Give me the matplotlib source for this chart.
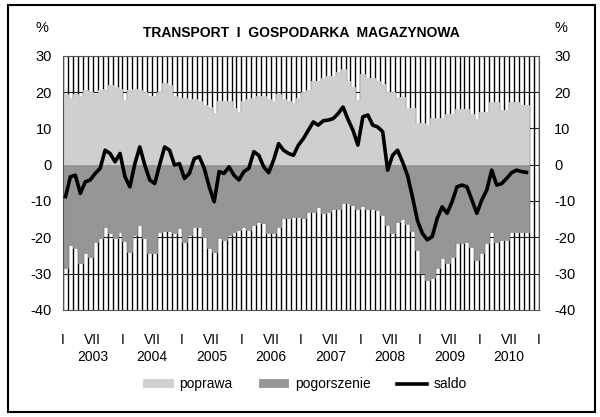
import matplotlib
matplotlib.use("Agg")
import matplotlib.pyplot as plt
from matplotlib.patches import Rectangle
import numpy as np

plt.rcParams['font.family'] = ['Liberation Sans', 'DejaVu Sans']
plt.rcParams['axes.unicode_minus'] = False

# monthly data, I 2003 - X 2010
poprawa = [19.5, 18.5, 19.5, 19.0, 20.5, 20.0, 19.5, 20.5, 21.0, 22.0, 21.5, 21.0,
           17.8, 20.5, 21.0, 20.5, 20.0, 19.0, 19.0, 20.0, 22.5, 22.0, 19.0, 18.5,
           18.5, 18.0, 18.0, 17.5, 16.5, 16.0, 14.2, 17.5, 17.5, 17.5, 15.5, 14.5,
           17.5, 18.0, 18.5, 19.0, 19.0, 18.0, 17.5, 19.5, 18.0, 17.5, 17.0, 18.5,
           20.0, 20.5, 23.0, 23.0, 24.0, 24.5, 24.5, 25.5, 26.5, 23.0, 21.5, 17.8,
           25.0, 24.0, 24.0, 23.0, 22.3, 20.0, 20.0, 18.7, 18.7, 15.5, 15.5, 11.5,
           11.5, 10.9, 13.0, 13.0, 13.0, 14.0, 14.0, 15.3, 15.3, 15.3, 14.0, 12.7,
           14.5, 14.5, 17.3, 17.3, 15.0, 15.0, 17.3, 17.3, 16.4, 16.4]
pogorszenie = [28.5, 22.1, 23.0, 27.2, 24.4, 25.3, 21.2, 20.3, 17.1, 18.9, 20.3, 18.5,
               21.0, 24.0, 19.4, 16.6, 20.3, 24.4, 24.4, 18.5, 18.2, 18.2, 18.9, 17.5,
               21.2, 19.4, 17.1, 17.1, 19.8, 23.0, 24.0, 20.3, 20.8, 19.4, 18.5, 18.0,
               17.1, 18.0, 16.6, 15.7, 16.2, 18.9, 18.9, 17.1, 14.8, 14.8, 14.3, 14.3,
               14.8, 13.0, 13.0, 11.6, 13.4, 13.0, 12.3, 12.3, 10.5, 10.5, 11.1, 12.3,
               11.4, 12.3, 12.3, 12.5, 13.9, 16.6, 18.9, 15.7, 15.0, 16.3, 18.4, 23.5,
               29.9, 31.7, 31.3, 28.5, 25.8, 27.2, 25.3, 21.7, 21.7, 21.2, 22.6, 26.3,
               24.4, 21.7, 18.5, 21.2, 20.8, 20.8, 18.5, 18.5, 18.5, 18.5]
saldo = [-8.8, -3.3, -2.9, -7.9, -4.7, -4.2, -2.4, -1.0, 4.0, 3.1, 0.8, 3.1,
         -3.3, -6.1, 0.3, 4.9, -0.1, -4.2, -5.2, 0.0, 4.9, 4.0, -0.1, 0.3,
         -3.8, -2.4, 1.7, 2.2, -1.0, -6.1, -10.2, -1.9, -2.4, -0.6, -2.9, -4.2,
         -1.9, -1.0, 3.6, 2.6, -0.6, -2.2, 1.3, 5.8, 4.0, 3.1, 2.6, 5.4,
         7.2, 9.5, 11.8, 10.9, 12.1, 12.3, 12.7, 14.1, 15.9, 12.5, 9.5, 5.4,
         13.2, 13.7, 10.9, 10.4, 9.1, -1.5, 2.6, 4.0, 0.8, -2.9, -8.8, -15.3,
         -18.9, -20.7, -19.8, -14.8, -11.6, -13.4, -10.2, -6.1, -5.6, -6.1, -9.7, -13.4,
         -9.7, -7.0, -1.5, -5.6, -5.2, -3.8, -2.2, -1.5, -1.9, -2.1]
years = [2003, 2004, 2005, 2006, 2007, 2008, 2009, 2010]
yticks = [-40, -30, -20, -10, 0, 10, 20, 30]

LIGHT = '#cfcfcf'
DARK = '#969696'

months = np.arange(len(poprawa))
n_axis = 12 * len(years)

fig = plt.figure(figsize=(6, 4.17), dpi=100)
ax = fig.add_axes([0.105, 0.257, 0.793, 0.609])

# striped background: one black line per month
ax.vlines(np.arange(n_axis + 1), -40, 30, colors='black', lw=1.0, zorder=0)
for y in yticks[1:-1]:
    ax.axhline(y, color='#222222', lw=0.8, zorder=0.5)

b1 = ax.bar(months, poprawa, width=1.0, align='edge', color=LIGHT, ec=LIGHT, lw=0.6,
            zorder=1, label='poprawa')
b2 = ax.bar(months, -np.array(pogorszenie), width=1.0, align='edge', color=DARK,
            ec=DARK, lw=0.6, zorder=1, label='pogorszenie')
ln, = ax.plot(months + 0.5, saldo, color='black', lw=2.6, zorder=3,
              solid_joinstyle='round', label='saldo')

ax.set_xlim(0, n_axis)
ax.set_ylim(-40, 30)
ax.set_yticks(yticks)
ax.tick_params(axis='y', length=0, labelsize=10.5, pad=8)

xt, xl = [], []
for k, yr in enumerate(years):
    xt += [12 * k, 12 * k + 6]
    xl += ['I', 'VII\n%d' % yr]
xt.append(n_axis)
xl.append('I')
ax.set_xticks(xt)
ax.set_xticklabels(xl, fontsize=10, va='top', linespacing=1.2)
ax.tick_params(axis='x', length=0, pad=17)

for s in ax.spines.values():
    s.set_color('#555555')
    s.set_linewidth(0.8)

ax2 = ax.twinx()
ax2.set_ylim(-40, 30)
ax2.set_yticks(yticks)
ax2.tick_params(axis='y', length=0, labelsize=10.5, pad=11)
for s in ax2.spines.values():
    s.set_visible(False)

fig.text(0.502, 0.922, 'TRANSPORT  I  GOSPODARKA  MAGAZYNOWA', ha='center',
         va='center', fontsize=10, fontweight='bold')
fig.text(0.07, 0.933, '%', ha='center', va='center', fontsize=10.5)
fig.text(0.935, 0.932, '%', ha='center', va='center', fontsize=10.5)

fig.legend([b1, b2, ln], ['poprawa', 'pogorszenie', 'saldo'], loc='center',
           bbox_to_anchor=(0.508, 0.079), ncol=3, frameon=False, fontsize=10,
           handlelength=2.15, handleheight=0.45, handletextpad=0.5,
           columnspacing=1.85)

fig.patches.append(Rectangle((0.013, 0.012), 0.978, 0.976, transform=fig.transFigure,
                             fill=False, lw=1.5, ec='black'))

fig.savefig('out.png', dpi=100)
